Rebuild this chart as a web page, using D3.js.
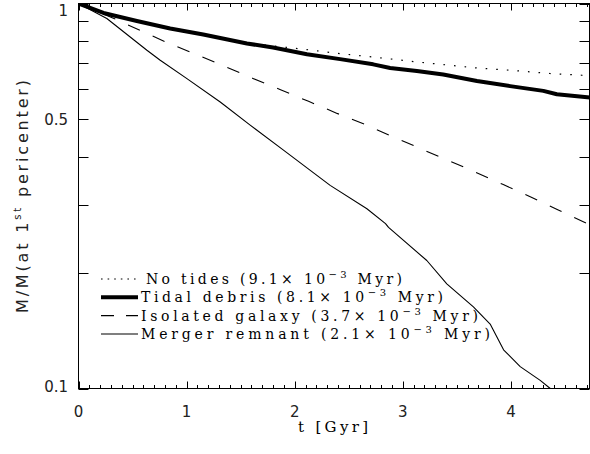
<!DOCTYPE html>
<html>
<head>
<meta charset="utf-8">
<script src="https://cdn.jsdelivr.net/npm/d3@7"></script>
<style>
  body { margin: 0; background: #fff; }
  svg { display: block; }
  .serif { font-family: "DejaVu Serif", "Liberation Serif", serif; fill: #000; }
  .sans { font-family: "DejaVu Sans", "Liberation Sans", sans-serif; fill: #222; }
</style>
</head>
<body>
<svg id="chart" width="590" height="454"></svg>
<script>
// values (t in Gyr, M normalised)
const noTidesT = [0, 0.231, 0.54, 0.848, 1.154, 1.558, 1.8, 2.113, 2.42, 2.726, 3.13, 3.686, 3.993, 4.36, 4.656, 4.73];
const noTidesM = [1, 0.946, 0.902, 0.862, 0.832, 0.789, 0.776, 0.759, 0.741, 0.726, 0.705, 0.68, 0.671, 0.658, 0.651, 0.649];

const debrisT = [0, 0.231, 0.54, 0.848, 1.154, 1.558, 1.8, 2.113, 2.42, 2.726, 2.883, 3.13, 3.374, 3.686, 3.993, 4.3, 4.425, 4.73];
const debrisM = [1, 0.945, 0.901, 0.861, 0.831, 0.787, 0.769, 0.738, 0.717, 0.695, 0.68, 0.668, 0.654, 0.629, 0.61, 0.593, 0.581, 0.57];

const isolatedT = [0, 0.322, 0.586, 0.836, 1.095, 1.357, 1.613, 1.869, 2.128, 2.387, 2.643, 2.899, 3.411, 3.661, 3.924, 4.179, 4.438, 4.73];
const isolatedM = [1, 0.916, 0.847, 0.788, 0.736, 0.686, 0.639, 0.597, 0.557, 0.519, 0.486, 0.452, 0.392, 0.366, 0.339, 0.315, 0.291, 0.266];

const mergerT = [0, 0.262, 0.633, 0.756, 1.003, 1.311, 1.588, 1.896, 2.328, 2.668, 2.84, 2.868, 3.222, 3.407, 3.653, 3.808, 3.932, 4.086, 4.271, 4.364, 4.45];
const mergerM = [1, 0.914, 0.756, 0.712, 0.638, 0.555, 0.483, 0.416, 0.337, 0.293, 0.268, 0.262, 0.215, 0.187, 0.163, 0.147, 0.126, 0.114, 0.105, 0.1, 0.096];

const legendLabels = ['No tides', 'Tidal debris', 'Isolated galaxy', 'Merger remnant'];
const legendRates = ['9.1', '8.1', '3.7', '2.1'];

const xMajor = [0, 1, 2, 3, 4];
const yTicks = [0.1, 0.2, 0.3, 0.4, 0.5, 0.6, 0.7, 0.8, 0.9, 1];
const yLabelled = [0.1, 0.5, 1];

const pL = 78.5, pR = 589.5, pT = 3.5, pB = 388.5;
const svg = d3.select('#chart');

const x = d3.scaleLinear().domain([0, 4.727]).range([pL, pR]);
const y = d3.scaleLog().domain([0.1, 1]).range([pB, pT]);

svg.append('clipPath').attr('id', 'plot')
  .append('rect')
  .attr('x', pL).attr('y', pT)
  .attr('width', pR - pL).attr('height', pB - pT);

const series = [
  { t: noTidesT, m: noTidesM, w: 1.2, dash: '1.6,9' },
  { t: debrisT, m: debrisM, w: 4, dash: null },
  { t: isolatedT, m: isolatedM, w: 1.1, dash: '13,14' },
  { t: mergerT, m: mergerM, w: 1.1, dash: null }
];

const line = d3.line()
  .x(d => x(d[0]))
  .y(d => y(d[1]));

svg.append('g').attr('clip-path', 'url(#plot)')
  .selectAll('path')
  .data(series)
  .enter()
  .append('path')
  .attr('d', s => line(s.t.map((t, i) => [t, s.m[i]])))
  .attr('fill', 'none')
  .attr('stroke', '#000')
  .attr('stroke-width', s => s.w)
  .attr('stroke-dasharray', s => s.dash)
  .attr('stroke-linejoin', 'round');

// frame
svg.append('rect')
  .attr('x', pL).attr('y', pT)
  .attr('width', pR - pL).attr('height', pB - pT)
  .attr('fill', 'none').attr('stroke', '#000').attr('stroke-width', 1);

// x ticks, bottom and top
const xMinor = d3.range(1, 48).map(i => i / 10).filter(v => v % 1 !== 0 && x(v) < pR);
const xAll = xMajor.map(v => ({ v, len: 7 })).concat(xMinor.map(v => ({ v, len: 3.5 })));
const ticks = svg.append('g').attr('stroke', '#000').attr('stroke-width', 1);
ticks.selectAll('.xb').data(xAll).enter().append('line')
  .attr('x1', d => Math.round(x(d.v)) + 0.5).attr('x2', d => Math.round(x(d.v)) + 0.5)
  .attr('y1', pB).attr('y2', d => pB - d.len);
ticks.selectAll('.xt').data(xAll).enter().append('line')
  .attr('x1', d => Math.round(x(d.v)) + 0.5).attr('x2', d => Math.round(x(d.v)) + 0.5)
  .attr('y1', pT).attr('y2', d => pT + d.len);

// y ticks, left and right
ticks.selectAll('.yl').data(yTicks).enter().append('line')
  .attr('x1', pL).attr('x2', pL + 10)
  .attr('y1', d => Math.round(y(d)) + 0.5).attr('y2', d => Math.round(y(d)) + 0.5);
ticks.selectAll('.yr').data(yTicks).enter().append('line')
  .attr('x1', pR).attr('x2', pR - 10)
  .attr('y1', d => Math.round(y(d)) + 0.5).attr('y2', d => Math.round(y(d)) + 0.5);

// tick labels
svg.append('g').selectAll('text').data(xMajor).enter().append('text')
  .attr('class', 'sans')
  .attr('x', d => x(d)).attr('y', 417)
  .attr('text-anchor', 'middle')
  .attr('font-size', 15)
  .text(d => d);

svg.append('g').selectAll('text').data(yLabelled).enter().append('text')
  .attr('class', 'sans')
  .attr('x', 68)
  .attr('y', d => Math.min(Math.max(y(d) + 5.5, 15.5), 392))
  .attr('text-anchor', 'end')
  .attr('font-size', 15)
  .text(d => d);

// axis titles
svg.append('text')
  .attr('class', 'serif')
  .attr('x', 333).attr('y', 432)
  .attr('text-anchor', 'middle')
  .attr('font-size', 15)
  .attr('textLength', 70).attr('lengthAdjust', 'spacing')
  .text('t [Gyr]');

const yTitle = svg.append('text')
  .attr('class', 'sans')
  .attr('transform', 'translate(28,196.5) rotate(-90)')
  .attr('text-anchor', 'middle')
  .attr('font-size', 16)
  .attr('textLength', 233).attr('lengthAdjust', 'spacing');
yTitle.append('tspan').text('M/M(at 1');
yTitle.append('tspan').attr('font-size', 10).attr('dy', -7).text('st');
yTitle.append('tspan').attr('dy', 7).text(' pericenter)');

// legend
const legendY = d3.scaleLinear().domain([0, 3]).range([279, 334]);
const lg = svg.append('g');
const legendDash = ['1.6,5', null, '13,12', null];
const legendLengths = [256, 302, 337, 349];
series.forEach((s, i) => {
  lg.append('line')
    .attr('x1', 101).attr('x2', 138)
    .attr('y1', legendY(i)).attr('y2', legendY(i))
    .attr('stroke', '#000').attr('stroke-width', s.w)
    .attr('stroke-dasharray', legendDash[i]);
  const t = lg.append('text')
    .attr('class', 'serif')
    .attr('x', i === 0 ? 146 : 141).attr('y', legendY(i) + 5)
    .attr('font-size', 14)
    .attr('textLength', legendLengths[i]).attr('lengthAdjust', 'spacing');
  t.append('tspan').text(legendLabels[i] + ' (' + legendRates[i] + '\u00d7 10');
  t.append('tspan').attr('font-size', 10).attr('dy', -6).text('\u22123');
  t.append('tspan').attr('dy', 6).text(' Myr)');
});
</script>
</body>
</html>
